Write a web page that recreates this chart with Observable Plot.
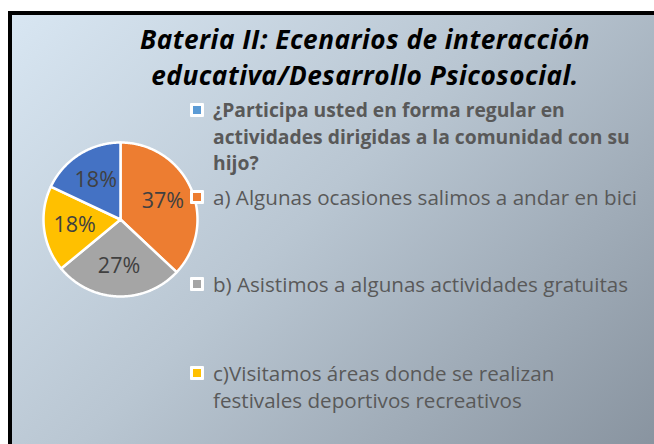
<!DOCTYPE html>
<html>
<head>
<meta charset="utf-8">
<script src="https://cdn.jsdelivr.net/npm/d3@7"></script>
<script src="https://cdn.jsdelivr.net/npm/@observablehq/plot@0.6"></script>
<style>
  html, body { margin: 0; padding: 0; background: #ffffff; }
  #page { position: relative; width: 654px; height: 444px; overflow: hidden; background: #fff; }
  #frame {
    position: absolute; left: 8px; top: 11px; width: 660px; height: 445px;
    border-left: 4px solid #000; border-top: 4px solid #000;
    background: linear-gradient(135deg, #d8e6f2 0%, #b9c6d2 45%, #86919d 100%);
  }
  .tl {
    position: absolute; left: 0; width: 730px; text-align: center;
    font-family: "Open Sans", Lato, sans-serif; font-weight: bold; font-style: italic;
    font-size: 26.2px; letter-spacing: 0.5px; line-height: 30px; height: 30px; color: #000;
  }
  #pie { position: absolute; left: 35px; top: 134px; }
  .leg { position: absolute; left: 190px; font-family: "Open Sans", Lato, sans-serif;
    font-size: 20.6px; line-height: 26.5px; color: #595959; }
  .leg.bold { font-weight: bold; font-size: 19.3px; }
  .leg .sw { position: absolute; left: 0; width: 8px; height: 8px; border: 3px solid #fff; border-radius: 1px; }
  .leg .tx { margin-left: 23px; white-space: nowrap; }
</style>
</head>
<body>
<div id="page">
  <div id="frame"></div>
  <div id="title"></div>
  <div id="pie"></div>
  <div id="legend"></div>
</div>
<script>
// ---- data ----
const title = ["Bateria II: Ecenarios de interacción", "educativa/Desarrollo Psicosocial."];
const sliceKeys = ["a", "b", "c", "q"];
const sliceValues = [37, 27, 18, 18];
const sliceLabels = ["37%", "27%", "18%", "18%"];
const sliceColors = ["#ED7D31", "#A5A5A5", "#FFC000", "#4472C4"];
const legendKeys = ["q", "a", "b", "c"];
const legendLines = [
  ["¿Participa usted en forma regular en", "actividades dirigidas a la comunidad con su", "hijo?"],
  ["a) Algunas ocasiones salimos a andar en bici"],
  ["b) Asistimos a algunas actividades gratuitas"],
  ["c)Visitamos áreas donde se realizan", "festivales deportivos recreativos"]
];
const legendColors = ["#5B9BD5", "#ED7D31", "#A5A5A5", "#FFC000"];

// ---- title ----
const titleEl = document.getElementById("title");
title.forEach((s, i) => {
  const d = document.createElement("div");
  d.className = "tl";
  d.style.top = (24 + i * 36) + "px";
  d.textContent = s;
  titleEl.appendChild(d);
});

// ---- pie via Plot ----
const table = sliceKeys.map((k, i) => ({key: k, value: sliceValues[i], label: sliceLabels[i]}));
const arcs = d3.pie().sort(null).value(d => d.value)(table);
const polys = [];
for (const a of arcs) {
  polys.push({key: a.data.key, x: 0, y: 0});
  const n = Math.max(2, Math.ceil((a.endAngle - a.startAngle) / 0.01));
  for (let j = 0; j <= n; j++) {
    const t = a.startAngle + (a.endAngle - a.startAngle) * j / n;
    polys.push({key: a.data.key, x: Math.sin(t), y: Math.cos(t)});
  }
}
const labels = arcs.map(a => {
  const m = (a.startAngle + a.endAngle) / 2;
  return {label: a.data.label, x: 0.6 * Math.sin(m), y: 0.6 * Math.cos(m)};
});

const plot = Plot.plot({
  width: 170, height: 170, margin: 8,
  x: {domain: [-1, 1], axis: null},
  y: {domain: [-1, 1], axis: null},
  color: {domain: sliceKeys, range: sliceColors},
  style: {background: "transparent", overflow: "visible"},
  marks: [
    Plot.line(polys, {x: "x", y: "y", z: "key", fill: "key", stroke: "#fff", strokeWidth: 2.5, curve: "linear-closed", strokeLinejoin: "round"}),
    Plot.text(labels, {x: "x", y: "y", text: "label", fill: "#404040", fontSize: 21.5, fontFamily: "'Open Sans', Lato, sans-serif"})
  ]
});
document.getElementById("pie").appendChild(plot);

// ---- legend ----
const legTops = [97, 184, 271, 360];
const legend = document.getElementById("legend");
legendKeys.forEach((k, i) => {
  const d = document.createElement("div");
  d.className = i === 0 ? "leg bold" : "leg";
  d.style.top = legTops[i] + "px";
  d.innerHTML = `<div class="sw" style="top:6px;background:${legendColors[i]}"></div>` +
    legendLines[i].map(s => `<div class="tx">${s}</div>`).join("");
  legend.appendChild(d);
});
</script>
</body>
</html>
